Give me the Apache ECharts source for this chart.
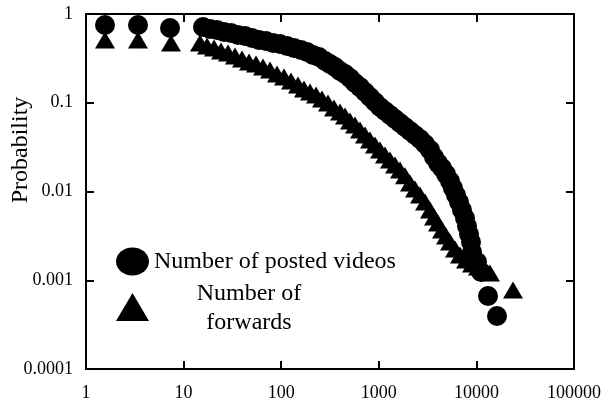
<!DOCTYPE html>
<html>
<head>
<meta charset="utf-8">
<script src="https://cdn.jsdelivr.net/npm/echarts@6/dist/echarts.min.js"></script>
<style>
html,body{margin:0;padding:0;background:#fff;}
#chart{width:603px;height:403px;}
</style>
</head>
<body>
<div id="chart"></div>
<script>
// Number of posted videos (circles)
var postedX = [1.566, 3.41, 7.26, 15.81, 18.65, 21.99, 25.94, 30.59, 36.08, 42.57, 50.21, 59.23, 69.88, 82.41, 97.2, 114.7, 135.3, 159.6, 183.8, 211.8, 243.9, 281.0, 316.2, 355.8, 400.5, 450.6, 507.0, 570.5, 642.0, 722.3, 812.7, 914.6, 1029, 1157, 1302, 1466, 1649, 1855, 2088, 2349, 2643, 2975, 3347, 3678, 4043, 4442, 4882, 5364, 5758, 6180, 6633, 7121, 7641, 8010, 8401, 8806, 9016, 10141, 11146, 13150, 16260];
var postedY = [0.752, 0.752, 0.695, 0.714, 0.678, 0.660, 0.627, 0.611, 0.580, 0.565, 0.537, 0.509, 0.496, 0.471, 0.459, 0.436, 0.414, 0.393, 0.373, 0.345, 0.328, 0.295, 0.273, 0.253, 0.228, 0.211, 0.190, 0.167, 0.150, 0.132, 0.116, 0.102, 0.0896, 0.0807, 0.0728, 0.0656, 0.0591, 0.0533, 0.0480, 0.0433, 0.0390, 0.0343, 0.0294, 0.0245, 0.0209, 0.0184, 0.0157, 0.0131, 0.0109, 0.00913, 0.00762, 0.00619, 0.00503, 0.00409, 0.00332, 0.00270, 0.00208, 0.00161, 0.00124, 0.000665, 0.000396];

// Number of forwards (triangles)
var forwardsX = [1.566, 3.41, 7.43, 14.72, 17.37, 20.49, 24.17, 28.51, 33.62, 39.67, 46.79, 55.19, 65.10, 76.79, 90.58, 106.8, 126.0, 148.6, 171.2, 197.3, 227.3, 261.8, 301.6, 347.5, 400.5, 450.6, 507.0, 570.5, 642.0, 722.3, 812.7, 914.6, 1029, 1157, 1302, 1466, 1649, 1855, 2088, 2349, 2643, 2975, 3347, 3678, 4043, 4442, 4882, 5364, 6036, 6792, 7825, 9016, 10385, 11964, 13783, 23714];
var forwardsY = [0.509, 0.509, 0.471, 0.471, 0.436, 0.414, 0.383, 0.364, 0.336, 0.311, 0.288, 0.273, 0.253, 0.234, 0.211, 0.195, 0.176, 0.158, 0.143, 0.132, 0.122, 0.110, 0.0994, 0.0873, 0.0787, 0.0709, 0.0623, 0.0561, 0.0493, 0.0433, 0.0380, 0.0334, 0.0294, 0.0258, 0.0226, 0.0199, 0.0175, 0.0150, 0.0125, 0.0107, 0.00913, 0.00762, 0.00619, 0.00516, 0.00442, 0.00368, 0.00315, 0.00270, 0.00225, 0.00193, 0.00169, 0.00152, 0.00141, 0.00130, 0.00121, 0.000777];

var xTickLabels = ['1', '10', '100', '1000', '10000', '100000'];
var yTickLabels = ['0.0001', '0.001', '0.01', '0.1', '1'];
var seriesNames = ['Number of posted videos', 'Number of forwards'];
var yAxisTitle = 'Probability';

function pairs(xs, ys) {
  var out = [];
  for (var i = 0; i < xs.length; i++) out.push([xs[i], ys[i]]);
  return out;
}

var FONT = '"Liberation Serif", "Times New Roman", serif';
var chart = echarts.init(document.getElementById('chart'), null, {renderer: 'canvas'});

var axisLineStyle = {color: '#000', width: 2};
var tickStyle = {show: true, inside: true, length: 8, lineStyle: {color: '#000', width: 2}};

var option = {
  backgroundColor: '#fff',
  animation: false,
  grid: {left: 86, right: 29, top: 14, bottom: 34, containLabel: false, outerBoundsMode: 'none'},
  xAxis: [{
    type: 'log', logBase: 10, min: 1, max: 100000, position: 'bottom',
    axisLine: {show: true, lineStyle: axisLineStyle},
    axisTick: tickStyle,
    minorTick: {show: false},
    splitLine: {show: false},
    axisLabel: {
      show: true, margin: 15, color: '#000', fontFamily: FONT, fontSize: 18,
      formatter: function (v) { return xTickLabels[Math.round(Math.log10(v))]; }
    }
  }, {
    type: 'log', logBase: 10, min: 1, max: 100000, position: 'top',
    axisLine: {show: true, lineStyle: axisLineStyle},
    axisTick: tickStyle,
    splitLine: {show: false},
    axisLabel: {show: false}
  }],
  yAxis: [{
    type: 'log', logBase: 10, min: 0.0001, max: 1, position: 'left',
    axisLine: {show: true, lineStyle: axisLineStyle},
    axisTick: tickStyle,
    splitLine: {show: false},
    axisLabel: {
      show: true, margin: 13, color: '#000', fontFamily: FONT, fontSize: 18,
      formatter: function (v) { return yTickLabels[Math.round(Math.log10(v)) + 4]; }
    }
  }, {
    type: 'log', logBase: 10, min: 0.0001, max: 1, position: 'right',
    axisLine: {show: true, lineStyle: axisLineStyle},
    axisTick: tickStyle,
    splitLine: {show: false},
    axisLabel: {show: false}
  }],
  series: [{
    name: seriesNames[1], type: 'scatter',
    symbol: 'triangle', symbolSize: [20, 17],
    itemStyle: {color: '#000', opacity: 1},
    data: pairs(forwardsX, forwardsY)
  }, {
    name: seriesNames[0], type: 'scatter',
    symbol: 'circle', symbolSize: 20,
    itemStyle: {color: '#000', opacity: 1},
    data: pairs(postedX, postedY)
  }],
  graphic: [
    {type: 'text', x: 21, y: 150, rotation: Math.PI / 2,
     style: {text: yAxisTitle, fill: '#000', font: '24px ' + FONT, align: 'center', verticalAlign: 'middle'}},
    {type: 'ellipse', shape: {cx: 132.5, cy: 261.5, rx: 16.5, ry: 14}, style: {fill: '#000'}},
    {type: 'polygon', shape: {points: [[132.5, 293], [149, 321], [116, 321]]}, style: {fill: '#000'}},
    {type: 'text', x: 154, y: 262, style: {text: seriesNames[0], fill: '#000', font: '24px ' + FONT, verticalAlign: 'middle'}},
    {type: 'text', x: 249, y: 308, style: {text: 'Number of\nforwards', fill: '#000', font: '24px ' + FONT, align: 'center', verticalAlign: 'middle', lineHeight: 29}}
  ]
};
chart.setOption(option);
</script>
</body>
</html>
